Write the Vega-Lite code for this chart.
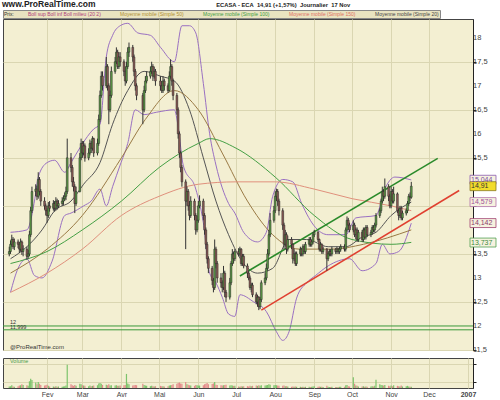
{
"$schema":"https://vega.github.io/schema/vega-lite/v6.json",
"background":"white",
"padding":{"left":2,"top":0,"right":0,"bottom":0},
"title":{"text":"www.ProRealTime.com","anchor":"start","font":"Liberation Sans","fontSize":8.5,"fontWeight":"bold","color":"#222","offset":1,
 "subtitle":"\u200b\u00a0\u00a0\u00a0\u00a0\u00a0\u00a0\u00a0\u00a0\u00a0\u00a0\u00a0\u00a0\u00a0\u00a0\u00a0\u00a0\u00a0\u00a0\u00a0\u00a0\u00a0\u00a0\u00a0\u00a0\u00a0\u00a0\u00a0\u00a0\u00a0\u00a0\u00a0\u00a0\u00a0\u00a0\u00a0\u00a0\u00a0\u00a0\u00a0\u00a0\u00a0\u00a0\u00a0\u00a0\u00a0\u00a0\u00a0\u00a0\u00a0\u00a0\u00a0\u00a0\u00a0\u00a0\u00a0\u00a0\u00a0\u00a0\u00a0\u00a0\u00a0\u00a0\u00a0\u00a0\u00a0\u00a0\u00a0\u00a0\u00a0\u00a0\u00a0\u00a0\u00a0\u00a0\u00a0\u00a0\u00a0\u00a0\u00a0\u00a0\u00a0\u00a0\u00a0\u00a0\u00a0\u00a0\u00a0\u00a0\u00a0\u00a0\u00a0\u00a0\u00a0\u00a0\u00a0\u00a0\u00a0\u00a0\u00a0\u00a0\u00a0\u00a0\u00a0\u00a0\u00a0\u00a0\u00a0\u00a0\u00a0\u00a0\u00a0\u00a0\u00a0\u00a0\u00a0\u00a0\u00a0\u00a0\u00a0\u00a0\u00a0\u00a0\u00a0\u00a0\u00a0\u00a0\u00a0\u00a0\u00a0\u00a0\u00a0\u00a0\u00a0ECASA - ECA\u00a0\u00a014,91 (+1,57%)\u00a0\u00a0Journalier\u00a0\u00a017 Nov",
 "subtitleFont":"Liberation Sans","subtitleFontSize":5.8,"subtitleFontWeight":"bold","subtitleColor":"#222","subtitlePadding":-7},
"config":{"view":{"stroke":"#444","strokeWidth":1,"fill":"#f3efd2"},
 "axis":{"gridColor":"#dad6b2","gridWidth":1,"labelFont":"Liberation Sans","labelFontSize":7.5,"labelColor":"#444","domainColor":"#222","tickColor":"#222","tickSize":3,"labelOverlap":false},
 "legend":{"labelFont":"Liberation Sans","titleFont":"Liberation Sans"}},
"datasets":{
"k":[
{"d":"2006-01-02","o":13.5,"h":13.65,"l":13.45,"c":13.55,"v":5000},
{"d":"2006-01-03","o":13.55,"h":13.78,"l":13.5,"c":13.7,"v":6000},
{"d":"2006-01-04","o":13.7,"h":13.9,"l":13.65,"c":13.8,"v":9000},
{"d":"2006-01-05","o":13.8,"h":13.85,"l":13.6,"c":13.65,"v":5000},
{"d":"2006-01-06","o":13.65,"h":13.82,"l":13.58,"c":13.75,"v":4000},
{"d":"2006-01-09","o":13.75,"h":13.8,"l":13.62,"c":13.7,"v":6000},
{"d":"2006-01-10","o":13.7,"h":13.75,"l":13.52,"c":13.6,"v":8000},
{"d":"2006-01-11","o":13.6,"h":13.82,"l":13.55,"c":13.75,"v":9000},
{"d":"2006-01-12","o":13.75,"h":13.78,"l":13.48,"c":13.55,"v":12000},
{"d":"2006-01-13","o":13.55,"h":13.68,"l":13.45,"c":13.6,"v":10000},
{"d":"2006-01-16","o":13.6,"h":13.65,"l":13.38,"c":13.45,"v":9000},
{"d":"2006-01-17","o":13.45,"h":13.58,"l":13.4,"c":13.5,"v":7000},
{"d":"2006-01-18","o":13.5,"h":13.98,"l":13.45,"c":13.9,"v":22000},
{"d":"2006-01-19","o":13.9,"h":14.48,"l":13.85,"c":14.4,"v":30000},
{"d":"2006-01-20","o":14.4,"h":14.9,"l":14.35,"c":14.8,"v":26000},
{"d":"2006-01-23","o":14.8,"h":14.95,"l":14.7,"c":14.85,"v":18000},
{"d":"2006-01-24","o":14.85,"h":14.92,"l":14.62,"c":14.7,"v":12000},
{"d":"2006-01-25","o":14.7,"h":15.2,"l":14.65,"c":15.05,"v":20000},
{"d":"2006-01-26","o":15.05,"h":15.1,"l":14.72,"c":14.8,"v":14000},
{"d":"2006-01-27","o":14.8,"h":14.85,"l":14.5,"c":14.6,"v":10000},
{"d":"2006-01-30","o":14.6,"h":14.68,"l":14.42,"c":14.5,"v":8000},
{"d":"2006-01-31","o":14.5,"h":14.55,"l":14.3,"c":14.4,"v":9000},
{"d":"2006-02-01","o":14.4,"h":14.45,"l":14.15,"c":14.3,"v":11000},
{"d":"2006-02-02","o":14.3,"h":14.58,"l":14.25,"c":14.5,"v":7000},
{"d":"2006-02-03","o":14.5,"h":14.6,"l":14.38,"c":14.45,"v":5000},
{"d":"2006-02-06","o":14.45,"h":14.62,"l":14.4,"c":14.55,"v":5000},
{"d":"2006-02-07","o":14.55,"h":14.6,"l":14.38,"c":14.45,"v":4000},
{"d":"2006-02-08","o":14.45,"h":14.68,"l":14.4,"c":14.6,"v":6000},
{"d":"2006-02-09","o":14.6,"h":14.65,"l":14.42,"c":14.5,"v":4000},
{"d":"2006-02-10","o":14.5,"h":14.62,"l":14.45,"c":14.55,"v":5000},
{"d":"2006-02-13","o":14.55,"h":14.68,"l":14.5,"c":14.6,"v":4000},
{"d":"2006-02-14","o":14.6,"h":14.72,"l":14.52,"c":14.65,"v":5000},
{"d":"2006-02-15","o":14.65,"h":14.78,"l":14.6,"c":14.7,"v":6000},
{"d":"2006-02-16","o":14.7,"h":14.9,"l":14.62,"c":14.8,"v":8000},
{"d":"2006-02-17","o":14.8,"h":15.9,"l":14.75,"c":15.5,"v":76000},
{"d":"2006-02-20","o":15.5,"h":15.6,"l":15.2,"c":15.3,"v":12000},
{"d":"2006-02-21","o":15.3,"h":15.35,"l":14.9,"c":15.0,"v":9000},
{"d":"2006-02-22","o":15.0,"h":15.1,"l":14.8,"c":14.9,"v":7000},
{"d":"2006-02-23","o":14.9,"h":14.95,"l":14.35,"c":14.55,"v":10000},
{"d":"2006-02-24","o":14.55,"h":14.9,"l":14.5,"c":14.8,"v":7000},
{"d":"2006-02-27","o":14.8,"h":15.6,"l":14.78,"c":15.5,"v":14000},
{"d":"2006-02-28","o":15.5,"h":15.9,"l":15.45,"c":15.8,"v":12000},
{"d":"2006-03-01","o":15.8,"h":15.85,"l":15.5,"c":15.6,"v":9000},
{"d":"2006-03-02","o":15.6,"h":15.85,"l":15.55,"c":15.75,"v":8000},
{"d":"2006-03-03","o":15.75,"h":15.8,"l":15.42,"c":15.5,"v":7000},
{"d":"2006-03-06","o":15.5,"h":15.7,"l":15.45,"c":15.6,"v":6000},
{"d":"2006-03-07","o":15.6,"h":15.88,"l":15.55,"c":15.8,"v":8000},
{"d":"2006-03-08","o":15.8,"h":15.85,"l":15.6,"c":15.7,"v":6000},
{"d":"2006-03-09","o":15.7,"h":15.95,"l":15.65,"c":15.9,"v":7000},
{"d":"2006-03-10","o":15.9,"h":15.92,"l":15.52,"c":15.6,"v":8000},
{"d":"2006-03-13","o":15.6,"h":15.9,"l":15.55,"c":15.8,"v":9000},
{"d":"2006-03-14","o":15.8,"h":16.4,"l":15.75,"c":16.3,"v":15000},
{"d":"2006-03-15","o":16.3,"h":16.9,"l":16.25,"c":16.8,"v":16000},
{"d":"2006-03-16","o":16.8,"h":17.3,"l":16.75,"c":17.2,"v":14000},
{"d":"2006-03-17","o":17.2,"h":17.3,"l":16.9,"c":17.0,"v":10000},
{"d":"2006-03-20","o":17.0,"h":17.6,"l":16.95,"c":17.4,"v":11000},
{"d":"2006-03-21","o":17.4,"h":17.45,"l":16.9,"c":17.0,"v":9000},
{"d":"2006-03-22","o":17.0,"h":17.05,"l":16.2,"c":16.5,"v":12000},
{"d":"2006-03-23","o":16.5,"h":16.9,"l":16.45,"c":16.8,"v":8000},
{"d":"2006-03-24","o":16.8,"h":17.4,"l":16.75,"c":17.3,"v":9000},
{"d":"2006-03-27","o":17.3,"h":17.6,"l":17.25,"c":17.5,"v":8000},
{"d":"2006-03-28","o":17.5,"h":17.8,"l":17.45,"c":17.7,"v":9000},
{"d":"2006-03-29","o":17.7,"h":17.75,"l":17.35,"c":17.4,"v":7000},
{"d":"2006-03-30","o":17.4,"h":17.7,"l":17.35,"c":17.6,"v":7000},
{"d":"2006-03-31","o":17.6,"h":17.7,"l":17.4,"c":17.5,"v":8000},
{"d":"2006-04-03","o":17.5,"h":17.55,"l":17.2,"c":17.3,"v":9000},
{"d":"2006-04-04","o":17.3,"h":17.4,"l":17.0,"c":17.1,"v":10000},
{"d":"2006-04-05","o":17.1,"h":17.5,"l":17.05,"c":17.4,"v":46000},
{"d":"2006-04-06","o":17.4,"h":17.8,"l":17.35,"c":17.7,"v":15000},
{"d":"2006-04-07","o":17.7,"h":17.9,"l":17.6,"c":17.8,"v":12000},
{"d":"2006-04-10","o":17.8,"h":17.85,"l":17.5,"c":17.6,"v":8000},
{"d":"2006-04-11","o":17.6,"h":17.65,"l":17.2,"c":17.3,"v":9000},
{"d":"2006-04-12","o":17.3,"h":17.35,"l":16.9,"c":17.0,"v":10000},
{"d":"2006-04-13","o":17.0,"h":17.05,"l":16.7,"c":16.8,"v":9000},
{"d":"2006-04-18","o":16.8,"h":16.85,"l":16.2,"c":16.5,"v":14000},
{"d":"2006-04-19","o":16.5,"h":17.0,"l":16.45,"c":16.9,"v":10000},
{"d":"2006-04-20","o":16.9,"h":17.2,"l":16.85,"c":17.1,"v":8000},
{"d":"2006-04-21","o":17.1,"h":17.3,"l":17.05,"c":17.2,"v":7000},
{"d":"2006-04-24","o":17.2,"h":17.4,"l":17.15,"c":17.3,"v":6000},
{"d":"2006-04-25","o":17.3,"h":17.5,"l":17.25,"c":17.4,"v":7000},
{"d":"2006-04-26","o":17.4,"h":17.45,"l":17.1,"c":17.2,"v":6000},
{"d":"2006-04-27","o":17.2,"h":17.4,"l":17.15,"c":17.3,"v":5000},
{"d":"2006-04-28","o":17.3,"h":17.35,"l":17.0,"c":17.1,"v":6000},
{"d":"2006-05-02","o":17.1,"h":17.2,"l":16.9,"c":17.0,"v":7000},
{"d":"2006-05-03","o":17.0,"h":17.1,"l":16.85,"c":16.9,"v":6000},
{"d":"2006-05-04","o":16.9,"h":17.2,"l":16.85,"c":17.1,"v":6000},
{"d":"2006-05-05","o":17.1,"h":17.15,"l":16.9,"c":17.0,"v":5000},
{"d":"2006-05-08","o":17.0,"h":17.05,"l":16.85,"c":16.9,"v":6000},
{"d":"2006-05-09","o":16.9,"h":17.3,"l":16.88,"c":17.2,"v":8000},
{"d":"2006-05-10","o":17.2,"h":17.55,"l":17.15,"c":17.4,"v":9000},
{"d":"2006-05-11","o":17.4,"h":17.45,"l":17.0,"c":17.1,"v":10000},
{"d":"2006-05-12","o":17.1,"h":17.15,"l":16.7,"c":16.8,"v":12000},
{"d":"2006-05-15","o":16.8,"h":16.85,"l":16.4,"c":16.5,"v":14000},
{"d":"2006-05-16","o":16.5,"h":16.55,"l":15.9,"c":16.0,"v":16000},
{"d":"2006-05-17","o":16.0,"h":16.05,"l":15.5,"c":15.6,"v":18000},
{"d":"2006-05-18","o":15.6,"h":15.65,"l":15.2,"c":15.3,"v":15000},
{"d":"2006-05-19","o":15.3,"h":15.35,"l":14.9,"c":15.0,"v":14000},
{"d":"2006-05-22","o":15.0,"h":15.05,"l":13.6,"c":14.6,"v":20000},
{"d":"2006-05-23","o":14.6,"h":14.9,"l":14.5,"c":14.8,"v":12000},
{"d":"2006-05-24","o":14.8,"h":14.85,"l":14.4,"c":14.5,"v":11000},
{"d":"2006-05-25","o":14.5,"h":14.6,"l":14.2,"c":14.3,"v":9000},
{"d":"2006-05-26","o":14.3,"h":14.7,"l":14.25,"c":14.6,"v":8000},
{"d":"2006-05-29","o":14.6,"h":14.65,"l":14.2,"c":14.3,"v":7000},
{"d":"2006-05-30","o":14.3,"h":14.35,"l":13.9,"c":14.0,"v":10000},
{"d":"2006-05-31","o":14.0,"h":14.3,"l":13.95,"c":14.2,"v":9000},
{"d":"2006-06-01","o":14.2,"h":14.6,"l":14.15,"c":14.5,"v":8000},
{"d":"2006-06-02","o":14.5,"h":14.72,"l":14.45,"c":14.6,"v":8000},
{"d":"2006-06-05","o":14.6,"h":14.65,"l":14.2,"c":14.3,"v":9000},
{"d":"2006-06-06","o":14.3,"h":14.35,"l":13.9,"c":14.0,"v":12000},
{"d":"2006-06-07","o":14.0,"h":14.05,"l":13.6,"c":13.7,"v":14000},
{"d":"2006-06-08","o":13.7,"h":13.75,"l":13.3,"c":13.4,"v":16000},
{"d":"2006-06-09","o":13.4,"h":13.45,"l":13.1,"c":13.2,"v":12000},
{"d":"2006-06-12","o":13.2,"h":13.25,"l":12.85,"c":12.95,"v":13000},
{"d":"2006-06-13","o":12.95,"h":13.0,"l":12.7,"c":12.8,"v":15000},
{"d":"2006-06-14","o":12.8,"h":13.8,"l":12.75,"c":13.6,"v":20000},
{"d":"2006-06-15","o":13.6,"h":13.65,"l":13.2,"c":13.3,"v":11000},
{"d":"2006-06-16","o":13.3,"h":13.35,"l":12.9,"c":13.0,"v":10000},
{"d":"2006-06-19","o":13.0,"h":13.1,"l":12.8,"c":12.9,"v":9000},
{"d":"2006-06-20","o":12.9,"h":12.95,"l":12.7,"c":12.8,"v":8000},
{"d":"2006-06-21","o":12.8,"h":13.25,"l":12.75,"c":13.1,"v":9000},
{"d":"2006-06-22","o":13.1,"h":13.15,"l":12.6,"c":12.7,"v":10000},
{"d":"2006-06-23","o":12.7,"h":12.75,"l":12.5,"c":12.6,"v":11000},
{"d":"2006-06-26","o":12.6,"h":13.0,"l":12.55,"c":12.9,"v":8000},
{"d":"2006-06-27","o":12.9,"h":13.35,"l":12.85,"c":13.3,"v":9000},
{"d":"2006-06-28","o":13.3,"h":13.6,"l":13.25,"c":13.5,"v":8000},
{"d":"2006-06-29","o":13.5,"h":13.55,"l":13.3,"c":13.4,"v":7000},
{"d":"2006-06-30","o":13.4,"h":13.6,"l":13.35,"c":13.55,"v":7000},
{"d":"2006-07-03","o":13.55,"h":13.62,"l":13.45,"c":13.5,"v":5000},
{"d":"2006-07-04","o":13.5,"h":13.65,"l":13.45,"c":13.6,"v":4000},
{"d":"2006-07-05","o":13.6,"h":13.62,"l":13.25,"c":13.3,"v":6000},
{"d":"2006-07-06","o":13.3,"h":13.5,"l":13.25,"c":13.45,"v":5000},
{"d":"2006-07-07","o":13.45,"h":13.5,"l":13.2,"c":13.25,"v":6000},
{"d":"2006-07-10","o":13.25,"h":13.3,"l":13.0,"c":13.1,"v":6000},
{"d":"2006-07-11","o":13.1,"h":13.15,"l":12.95,"c":13.0,"v":5000},
{"d":"2006-07-12","o":13.0,"h":13.05,"l":12.75,"c":12.8,"v":7000},
{"d":"2006-07-13","o":12.8,"h":12.9,"l":12.7,"c":12.85,"v":6000},
{"d":"2006-07-14","o":12.85,"h":12.9,"l":12.6,"c":12.65,"v":7000},
{"d":"2006-07-17","o":12.65,"h":12.7,"l":12.45,"c":12.5,"v":8000},
{"d":"2006-07-18","o":12.5,"h":12.65,"l":12.4,"c":12.6,"v":7000},
{"d":"2006-07-19","o":12.6,"h":12.62,"l":12.33,"c":12.4,"v":9000},
{"d":"2006-07-20","o":12.4,"h":12.6,"l":12.35,"c":12.55,"v":7000},
{"d":"2006-07-21","o":12.55,"h":12.95,"l":12.5,"c":12.9,"v":9000},
{"d":"2006-07-24","o":12.9,"h":13.1,"l":12.85,"c":13.0,"v":8000},
{"d":"2006-07-25","o":13.0,"h":13.3,"l":12.95,"c":13.2,"v":9000},
{"d":"2006-07-26","o":13.2,"h":13.6,"l":13.15,"c":13.5,"v":10000},
{"d":"2006-07-27","o":13.5,"h":14.0,"l":13.45,"c":13.9,"v":12000},
{"d":"2006-07-28","o":13.9,"h":14.35,"l":13.85,"c":14.2,"v":11000},
{"d":"2006-07-31","o":14.2,"h":14.5,"l":14.15,"c":14.4,"v":9000},
{"d":"2006-08-01","o":14.4,"h":14.8,"l":14.35,"c":14.7,"v":10000},
{"d":"2006-08-02","o":14.7,"h":14.86,"l":14.6,"c":14.8,"v":9000},
{"d":"2006-08-03","o":14.8,"h":14.85,"l":14.5,"c":14.6,"v":8000},
{"d":"2006-08-04","o":14.6,"h":14.65,"l":14.3,"c":14.4,"v":7000},
{"d":"2006-08-07","o":14.4,"h":14.45,"l":14.0,"c":14.1,"v":7000},
{"d":"2006-08-08","o":14.1,"h":14.15,"l":13.6,"c":13.7,"v":8000},
{"d":"2006-08-09","o":13.7,"h":14.0,"l":13.65,"c":13.9,"v":6000},
{"d":"2006-08-10","o":13.9,"h":13.95,"l":13.5,"c":13.6,"v":6000},
{"d":"2006-08-11","o":13.6,"h":13.88,"l":13.55,"c":13.8,"v":5000},
{"d":"2006-08-14","o":13.8,"h":13.85,"l":13.6,"c":13.7,"v":4000},
{"d":"2006-08-15","o":13.7,"h":13.72,"l":13.3,"c":13.4,"v":5000},
{"d":"2006-08-16","o":13.4,"h":13.6,"l":13.35,"c":13.5,"v":4000},
{"d":"2006-08-17","o":13.5,"h":13.55,"l":13.25,"c":13.3,"v":5000},
{"d":"2006-08-18","o":13.3,"h":13.55,"l":13.25,"c":13.5,"v":4000},
{"d":"2006-08-21","o":13.5,"h":13.65,"l":13.45,"c":13.6,"v":4000},
{"d":"2006-08-22","o":13.6,"h":13.62,"l":13.45,"c":13.5,"v":3000},
{"d":"2006-08-23","o":13.5,"h":13.7,"l":13.45,"c":13.65,"v":4000},
{"d":"2006-08-24","o":13.65,"h":13.7,"l":13.5,"c":13.55,"v":3000},
{"d":"2006-08-25","o":13.55,"h":13.75,"l":13.5,"c":13.7,"v":4000},
{"d":"2006-08-28","o":13.7,"h":13.85,"l":13.65,"c":13.8,"v":4000},
{"d":"2006-08-29","o":13.8,"h":13.85,"l":13.65,"c":13.7,"v":3000},
{"d":"2006-08-30","o":13.7,"h":13.8,"l":13.65,"c":13.75,"v":4000},
{"d":"2006-08-31","o":13.75,"h":13.95,"l":13.7,"c":13.9,"v":5000},
{"d":"2006-09-01","o":13.9,"h":14.0,"l":13.85,"c":13.95,"v":6000},
{"d":"2006-09-04","o":13.95,"h":13.98,"l":13.75,"c":13.8,"v":4000},
{"d":"2006-09-05","o":13.8,"h":13.82,"l":13.55,"c":13.6,"v":5000},
{"d":"2006-09-06","o":13.6,"h":13.75,"l":13.55,"c":13.7,"v":4000},
{"d":"2006-09-07","o":13.7,"h":13.72,"l":13.5,"c":13.55,"v":4000},
{"d":"2006-09-08","o":13.55,"h":13.65,"l":13.5,"c":13.6,"v":3000},
{"d":"2006-09-11","o":13.6,"h":13.62,"l":13.15,"c":13.4,"v":7000},
{"d":"2006-09-12","o":13.4,"h":13.55,"l":13.35,"c":13.5,"v":4000},
{"d":"2006-09-13","o":13.5,"h":13.6,"l":13.45,"c":13.55,"v":3000},
{"d":"2006-09-14","o":13.55,"h":13.6,"l":13.45,"c":13.5,"v":3000},
{"d":"2006-09-15","o":13.5,"h":13.65,"l":13.45,"c":13.6,"v":4000},
{"d":"2006-09-18","o":13.6,"h":13.62,"l":13.5,"c":13.55,"v":3000},
{"d":"2006-09-19","o":13.55,"h":13.65,"l":13.5,"c":13.6,"v":3000},
{"d":"2006-09-20","o":13.6,"h":13.62,"l":13.5,"c":13.55,"v":3000},
{"d":"2006-09-21","o":13.55,"h":13.65,"l":13.5,"c":13.6,"v":4000},
{"d":"2006-09-22","o":13.6,"h":13.7,"l":13.55,"c":13.65,"v":4000},
{"d":"2006-09-25","o":13.65,"h":13.7,"l":13.55,"c":13.6,"v":4000},
{"d":"2006-09-26","o":13.6,"h":14.05,"l":13.55,"c":14.0,"v":9000},
{"d":"2006-09-27","o":14.0,"h":14.28,"l":13.95,"c":14.2,"v":10000},
{"d":"2006-09-28","o":14.2,"h":14.25,"l":14.0,"c":14.1,"v":6000},
{"d":"2006-09-29","o":14.1,"h":14.15,"l":13.95,"c":14.0,"v":5000},
{"d":"2006-10-02","o":14.0,"h":14.2,"l":13.95,"c":14.1,"v":35000},
{"d":"2006-10-03","o":14.1,"h":14.15,"l":13.85,"c":13.9,"v":14000},
{"d":"2006-10-04","o":13.9,"h":14.05,"l":13.8,"c":14.0,"v":8000},
{"d":"2006-10-05","o":14.0,"h":14.05,"l":13.75,"c":13.8,"v":7000},
{"d":"2006-10-06","o":13.8,"h":14.0,"l":13.75,"c":13.95,"v":5000},
{"d":"2006-10-09","o":13.95,"h":14.0,"l":13.75,"c":13.8,"v":5000},
{"d":"2006-10-10","o":13.8,"h":14.05,"l":13.75,"c":14.0,"v":6000},
{"d":"2006-10-11","o":14.0,"h":14.05,"l":13.8,"c":13.85,"v":4000},
{"d":"2006-10-12","o":13.85,"h":14.1,"l":13.8,"c":14.05,"v":5000},
{"d":"2006-10-13","o":14.05,"h":14.1,"l":13.85,"c":13.9,"v":4000},
{"d":"2006-10-16","o":13.9,"h":14.0,"l":13.85,"c":13.95,"v":5000},
{"d":"2006-10-17","o":13.95,"h":14.1,"l":13.9,"c":14.05,"v":6000},
{"d":"2006-10-18","o":14.05,"h":14.1,"l":13.95,"c":14.0,"v":5000},
{"d":"2006-10-19","o":14.0,"h":14.15,"l":13.95,"c":14.1,"v":7000},
{"d":"2006-10-20","o":14.1,"h":14.35,"l":14.05,"c":14.3,"v":27000},
{"d":"2006-10-23","o":14.3,"h":14.45,"l":14.25,"c":14.4,"v":12000},
{"d":"2006-10-24","o":14.4,"h":14.65,"l":14.35,"c":14.6,"v":10000},
{"d":"2006-10-25","o":14.6,"h":14.9,"l":14.55,"c":14.8,"v":9000},
{"d":"2006-10-26","o":14.8,"h":14.85,"l":14.6,"c":14.7,"v":8000},
{"d":"2006-10-27","o":14.7,"h":15.07,"l":14.65,"c":14.9,"v":10000},
{"d":"2006-10-30","o":14.9,"h":14.95,"l":14.6,"c":14.7,"v":7000},
{"d":"2006-10-31","o":14.7,"h":14.75,"l":14.45,"c":14.5,"v":6000},
{"d":"2006-11-01","o":14.5,"h":14.9,"l":14.45,"c":14.8,"v":8000},
{"d":"2006-11-02","o":14.8,"h":14.85,"l":14.55,"c":14.6,"v":6000},
{"d":"2006-11-03","o":14.6,"h":14.9,"l":14.55,"c":14.75,"v":9000},
{"d":"2006-11-06","o":14.75,"h":14.78,"l":14.35,"c":14.4,"v":7000},
{"d":"2006-11-07","o":14.4,"h":14.45,"l":14.2,"c":14.3,"v":6000},
{"d":"2006-11-08","o":14.3,"h":14.5,"l":14.25,"c":14.45,"v":5000},
{"d":"2006-11-09","o":14.45,"h":14.5,"l":14.2,"c":14.25,"v":8000},
{"d":"2006-11-10","o":14.25,"h":14.4,"l":14.2,"c":14.35,"v":5000},
{"d":"2006-11-13","o":14.35,"h":14.45,"l":14.3,"c":14.4,"v":6000},
{"d":"2006-11-14","o":14.4,"h":14.6,"l":14.35,"c":14.55,"v":7000},
{"d":"2006-11-15","o":14.55,"h":14.75,"l":14.5,"c":14.7,"v":5000},
{"d":"2006-11-16","o":14.7,"h":14.78,"l":14.6,"c":14.68,"v":4000},
{"d":"2006-11-17","o":14.68,"h":15.0,"l":14.65,"c":14.91,"v":3887}
],
"ln":[
{"d":"2006-01-03","s":"B","b":"u","v":13.95},{"d":"2006-01-16","s":"B","b":"u","v":14.0},{"d":"2006-01-22","s":"B","b":"u","v":14.6},{"d":"2006-01-25","s":"B","b":"u","v":15.1},{"d":"2006-02-01","s":"B","b":"u","v":15.4},{"d":"2006-02-07","s":"B","b":"u","v":15.45},{"d":"2006-02-15","s":"B","b":"u","v":15.2},{"d":"2006-02-20","s":"B","b":"u","v":15.4},{"d":"2006-02-28","s":"B","b":"u","v":15.75},{"d":"2006-03-10","s":"B","b":"u","v":16.1},{"d":"2006-03-15","s":"B","b":"u","v":16.2},{"d":"2006-03-20","s":"B","b":"u","v":17.6},{"d":"2006-03-25","s":"B","b":"u","v":18.05},{"d":"2006-03-31","s":"B","b":"u","v":18.25},{"d":"2006-04-06","s":"B","b":"u","v":18.3},{"d":"2006-04-14","s":"B","b":"u","v":18.1},{"d":"2006-04-24","s":"B","b":"u","v":18.05},{"d":"2006-05-02","s":"B","b":"u","v":17.8},{"d":"2006-05-13","s":"B","b":"u","v":17.5},{"d":"2006-05-19","s":"B","b":"u","v":18.25},{"d":"2006-05-25","s":"B","b":"u","v":18.25},{"d":"2006-05-30","s":"B","b":"u","v":18.1},{"d":"2006-06-05","s":"B","b":"u","v":17.05},{"d":"2006-06-10","s":"B","b":"u","v":16.0},{"d":"2006-06-15","s":"B","b":"u","v":15.35},{"d":"2006-06-25","s":"B","b":"u","v":14.55},{"d":"2006-06-30","s":"B","b":"u","v":14.35},{"d":"2006-07-07","s":"B","b":"u","v":13.95},{"d":"2006-07-18","s":"B","b":"u","v":13.75},{"d":"2006-07-25","s":"B","b":"u","v":13.95},{"d":"2006-07-30","s":"B","b":"u","v":14.7},{"d":"2006-08-07","s":"B","b":"u","v":15.05},{"d":"2006-08-15","s":"B","b":"u","v":15.0},{"d":"2006-08-22","s":"B","b":"u","v":14.55},{"d":"2006-09-02","s":"B","b":"u","v":14.05},{"d":"2006-09-12","s":"B","b":"u","v":13.9},{"d":"2006-09-26","s":"B","b":"u","v":13.9},{"d":"2006-10-04","s":"B","b":"u","v":14.25},{"d":"2006-10-20","s":"B","b":"u","v":14.3},{"d":"2006-10-27","s":"B","b":"u","v":14.85},{"d":"2006-11-04","s":"B","b":"u","v":15.1},{"d":"2006-11-17","s":"B","b":"u","v":15.04},
{"d":"2006-01-03","s":"B","b":"l","v":12.7},{"d":"2006-01-09","s":"B","b":"l","v":13.2},{"d":"2006-01-16","s":"B","b":"l","v":13.4},{"d":"2006-01-22","s":"B","b":"l","v":13.05},{"d":"2006-01-28","s":"B","b":"l","v":13.0},{"d":"2006-02-05","s":"B","b":"l","v":13.35},{"d":"2006-02-15","s":"B","b":"l","v":14.3},{"d":"2006-02-20","s":"B","b":"l","v":14.35},{"d":"2006-03-02","s":"B","b":"l","v":14.5},{"d":"2006-03-08","s":"B","b":"l","v":14.6},{"d":"2006-03-15","s":"B","b":"l","v":14.85},{"d":"2006-03-20","s":"B","b":"l","v":14.5},{"d":"2006-03-25","s":"B","b":"l","v":14.9},{"d":"2006-03-31","s":"B","b":"l","v":15.35},{"d":"2006-04-06","s":"B","b":"l","v":15.8},{"d":"2006-04-12","s":"B","b":"l","v":16.5},{"d":"2006-04-19","s":"B","b":"l","v":16.4},{"d":"2006-04-29","s":"B","b":"l","v":16.45},{"d":"2006-05-13","s":"B","b":"l","v":16.5},{"d":"2006-05-16","s":"B","b":"l","v":16.15},{"d":"2006-05-20","s":"B","b":"l","v":15.35},{"d":"2006-05-30","s":"B","b":"l","v":14.85},{"d":"2006-06-05","s":"B","b":"l","v":14.15},{"d":"2006-06-10","s":"B","b":"l","v":13.1},{"d":"2006-06-15","s":"B","b":"l","v":12.9},{"d":"2006-06-20","s":"B","b":"l","v":12.6},{"d":"2006-06-25","s":"B","b":"l","v":12.25},{"d":"2006-06-30","s":"B","b":"l","v":12.2},{"d":"2006-07-04","s":"B","b":"l","v":12.65},{"d":"2006-07-15","s":"B","b":"l","v":12.5},{"d":"2006-07-25","s":"B","b":"l","v":12.3},{"d":"2006-08-02","s":"B","b":"l","v":11.88},{"d":"2006-08-07","s":"B","b":"l","v":11.7},{"d":"2006-08-12","s":"B","b":"l","v":11.88},{"d":"2006-08-18","s":"B","b":"l","v":12.58},{"d":"2006-08-26","s":"B","b":"l","v":12.9},{"d":"2006-09-02","s":"B","b":"l","v":13.05},{"d":"2006-09-12","s":"B","b":"l","v":13.25},{"d":"2006-09-29","s":"B","b":"l","v":13.4},{"d":"2006-10-09","s":"B","b":"l","v":13.15},{"d":"2006-10-20","s":"B","b":"l","v":13.3},{"d":"2006-10-25","s":"B","b":"l","v":13.7},{"d":"2006-10-31","s":"B","b":"l","v":13.5},{"d":"2006-11-07","s":"B","b":"l","v":13.55},{"d":"2006-11-17","s":"B","b":"l","v":14.14},
{"d":"2006-01-03","s":"M20","b":"m","v":13.4},{"d":"2006-01-16","s":"M20","b":"m","v":13.65},{"d":"2006-01-28","s":"M20","b":"m","v":14.0},{"d":"2006-02-07","s":"M20","b":"m","v":14.4},{"d":"2006-02-20","s":"M20","b":"m","v":14.6},{"d":"2006-03-02","s":"M20","b":"m","v":14.95},{"d":"2006-03-15","s":"M20","b":"m","v":15.4},{"d":"2006-03-25","s":"M20","b":"m","v":16.2},{"d":"2006-04-06","s":"M20","b":"m","v":16.9},{"d":"2006-04-19","s":"M20","b":"m","v":17.3},{"d":"2006-05-02","s":"M20","b":"m","v":17.2},{"d":"2006-05-13","s":"M20","b":"m","v":17.1},{"d":"2006-05-25","s":"M20","b":"m","v":16.5},{"d":"2006-06-05","s":"M20","b":"m","v":15.5},{"d":"2006-06-15","s":"M20","b":"m","v":14.6},{"d":"2006-06-25","s":"M20","b":"m","v":13.9},{"d":"2006-07-07","s":"M20","b":"m","v":13.3},{"d":"2006-07-18","s":"M20","b":"m","v":13.1},{"d":"2006-07-30","s":"M20","b":"m","v":13.2},{"d":"2006-08-12","s":"M20","b":"m","v":13.8},{"d":"2006-08-26","s":"M20","b":"m","v":13.8},{"d":"2006-09-12","s":"M20","b":"m","v":13.65},{"d":"2006-09-26","s":"M20","b":"m","v":13.65},{"d":"2006-10-09","s":"M20","b":"m","v":13.85},{"d":"2006-10-20","s":"M20","b":"m","v":13.95},{"d":"2006-11-01","s":"M20","b":"m","v":14.3},{"d":"2006-11-17","s":"M20","b":"m","v":14.58},
{"d":"2006-01-03","s":"M50","b":"m","v":13.1},{"d":"2006-02-01","s":"M50","b":"m","v":13.6},{"d":"2006-03-01","s":"M50","b":"m","v":14.3},{"d":"2006-04-01","s":"M50","b":"m","v":15.5},{"d":"2006-04-20","s":"M50","b":"m","v":16.3},{"d":"2006-05-13","s":"M50","b":"m","v":16.9},{"d":"2006-06-01","s":"M50","b":"m","v":16.5},{"d":"2006-06-20","s":"M50","b":"m","v":15.6},{"d":"2006-07-10","s":"M50","b":"m","v":14.6},{"d":"2006-07-30","s":"M50","b":"m","v":13.9},{"d":"2006-08-20","s":"M50","b":"m","v":13.6},{"d":"2006-09-15","s":"M50","b":"m","v":13.6},{"d":"2006-10-10","s":"M50","b":"m","v":13.7},{"d":"2006-11-17","s":"M50","b":"m","v":14.0},
{"d":"2006-01-03","s":"M100","b":"m","v":13.3},{"d":"2006-02-01","s":"M100","b":"m","v":13.55},{"d":"2006-03-01","s":"M100","b":"m","v":14.0},{"d":"2006-04-01","s":"M100","b":"m","v":14.6},{"d":"2006-05-01","s":"M100","b":"m","v":15.3},{"d":"2006-06-01","s":"M100","b":"m","v":15.8},{"d":"2006-06-10","s":"M100","b":"m","v":15.9},{"d":"2006-07-01","s":"M100","b":"m","v":15.7},{"d":"2006-08-01","s":"M100","b":"m","v":15.1},{"d":"2006-09-01","s":"M100","b":"m","v":14.3},{"d":"2006-10-01","s":"M100","b":"m","v":13.8},{"d":"2006-11-01","s":"M100","b":"m","v":13.7},{"d":"2006-11-17","s":"M100","b":"m","v":13.74},
{"d":"2006-01-03","s":"M150","b":"m","v":12.7},{"d":"2006-02-01","s":"M150","b":"m","v":13.1},{"d":"2006-03-01","s":"M150","b":"m","v":13.6},{"d":"2006-04-01","s":"M150","b":"m","v":14.3},{"d":"2006-05-01","s":"M150","b":"m","v":14.7},{"d":"2006-06-01","s":"M150","b":"m","v":14.95},{"d":"2006-07-01","s":"M150","b":"m","v":15.0},{"d":"2006-08-01","s":"M150","b":"m","v":15.0},{"d":"2006-09-01","s":"M150","b":"m","v":14.85},{"d":"2006-10-01","s":"M150","b":"m","v":14.65},{"d":"2006-11-01","s":"M150","b":"m","v":14.5},{"d":"2006-11-17","s":"M150","b":"m","v":14.4}
],
"tr":[
{"d":"2006-07-04","t":"g","v":13.04},{"d":"2006-12-08","t":"g","v":15.49},
{"d":"2006-07-21","t":"r","v":12.33},{"d":"2006-12-25","t":"r","v":14.82}
],
"hl":[{"v":12.0},{"v":11.92}],
"ylab":[{"v":11.5,"t":"11,5"},{"v":12,"t":"12"},{"v":12.5,"t":"12,5"},{"v":13,"t":"13"},{"v":13.5,"t":"13,5"},{"v":15.5,"t":"15,5"},{"v":16,"t":"16"},{"v":16.5,"t":"16,5"},{"v":17,"t":"17"},{"v":17.5,"t":"17,5"},{"v":18,"t":"18"}],
"rl":[
{"v":15.044,"t":"15,044","k":"bs"},
{"v":14.91,"t":"14,91","k":"px"},
{"v":14.579,"t":"14,579","k":"mm"},
{"v":14.142,"t":"14,142","k":"bi"},
{"v":13.737,"t":"13,737","k":"m100"}
]
},
"spacing":3,
"vconcat":[
{
"width":470,"height":331,
"layer":[
{"data":{"name":"ln"},"mark":{"type":"line","strokeWidth":1,"interpolate":"monotone","clip":true},
 "encoding":{
  "x":{"field":"d","type":"temporal","scale":{"type":"utc","domain":[{"year":2006,"month":1,"date":1,"utc":true},{"year":2007,"month":1,"date":1,"utc":true}]},
   "axis":{"orient":"bottom","labels":false,"ticks":false,"domain":false,"title":null,"grid":true,
    "values":[{"year":2006,"month":2,"date":1,"utc":true},{"year":2006,"month":3,"date":1,"utc":true},{"year":2006,"month":4,"date":1,"utc":true},{"year":2006,"month":5,"date":1,"utc":true},{"year":2006,"month":6,"date":1,"utc":true},{"year":2006,"month":7,"date":1,"utc":true},{"year":2006,"month":8,"date":1,"utc":true},{"year":2006,"month":9,"date":1,"utc":true},{"year":2006,"month":10,"date":1,"utc":true},{"year":2006,"month":11,"date":1,"utc":true},{"year":2006,"month":12,"date":1,"utc":true}]}},
  "y":{"field":"v","type":"quantitative","scale":{"domain":[11.5,18.39],"nice":false,"zero":false},
   "axis":{"orient":"right","title":null,"grid":true,"labels":false,"values":[11.5,12,12.5,13,13.5,14,14.5,15,15.5,16,16.5,17,17.5,18]}},
  "color":{"field":"s","type":"nominal","scale":{"domain":["B","M50","M100","M150","M20"],"range":["#9a70c2","#9a7a45","#45a045","#e0907c","#555555"]},
   "legend":{"orient":"top","direction":"horizontal","title":"Prix:","titleOrient":"left","titleFontSize":5,"titleFontWeight":"normal","titleColor":"#333","labelFontSize":5,"symbolSize":0,"symbolStrokeWidth":0,"offset":0,"padding":1,"columnPadding":10,"fillColor":"#e9e3c0","strokeColor":"#888",
    "labelExpr":"datum.value=='B'?'Boll sup Boll inf Boll milieu (20 2)':datum.value=='M50'?'Moyenne mobile (Simple 50)':datum.value=='M100'?'Moyenne mobile (Simple 100)':datum.value=='M150'?'Moyenne mobile (Simple 150)':'Moyenne mobile (Simple 20)'",
    "labelColor":{"expr":"datum.value=='B'?'#b0407a':datum.value=='M50'?'#b09030':datum.value=='M100'?'#40a040':datum.value=='M150'?'#e07060':'#444444'"}}},
  "detail":{"field":"b","type":"nominal"}
 }},
{"data":{"name":"hl"},"mark":{"type":"rule","color":"#3a9a3a","strokeWidth":1},"encoding":{"y":{"field":"v","type":"quantitative"}}},
{"data":{"name":"tr"},"mark":{"type":"line","strokeWidth":1.5},
 "encoding":{"x":{"field":"d","type":"temporal"},"y":{"field":"v","type":"quantitative"},
  "stroke":{"field":"t","type":"nominal","scale":{"domain":["g","r"],"range":["#2a8a2a","#e04030"]},"legend":null}}},
{"data":{"name":"k"},"mark":{"type":"rule","color":"#333333","strokeWidth":1},
 "encoding":{"x":{"field":"d","type":"temporal"},"y":{"field":"l","type":"quantitative"},"y2":{"field":"h"}}},
{"data":{"name":"k"},"mark":{"type":"bar","width":1.8,"stroke":"#2a2a2a","strokeWidth":0.5},
 "encoding":{"x":{"field":"d","type":"temporal"},"y":{"field":"o","type":"quantitative"},"y2":{"field":"c"},
  "fill":{"condition":{"test":"datum.c>=datum.o","value":"#5c9a45"},"value":"#8c5a55"}}},
{"data":{"values":[{"t":"12","v":12.09},{"t":"11,999","v":11.97}]},"mark":{"type":"text","align":"left","dx":2,"fontSize":5.5,"font":"Liberation Sans","color":"#333"},
 "encoding":{"x":{"datum":{"year":2006,"month":1,"date":1,"utc":true},"type":"temporal"},"y":{"field":"v","type":"quantitative"},"text":{"field":"t"}}},
{"data":{"values":[{"t":"@ProRealTime.com","v":11.56}]},"mark":{"type":"text","align":"left","dx":2,"fontSize":6,"font":"Liberation Sans","color":"#333"},
 "encoding":{"x":{"datum":{"year":2006,"month":1,"date":1,"utc":true},"type":"temporal"},"y":{"field":"v","type":"quantitative"},"text":{"field":"t"}}},
{"data":{"name":"ylab"},"mark":{"type":"text","align":"left","baseline":"middle","dx":5,"fontSize":7.5,"font":"Liberation Sans","color":"#444"},
 "encoding":{"x":{"datum":{"year":2007,"month":1,"date":1,"utc":true},"type":"temporal"},"y":{"field":"v","type":"quantitative"},"text":{"field":"t"}}},
{"data":{"name":"rl"},"mark":{"type":"point","shape":"M-1.6,-0.55H1.6V0.55H-1.6Z","size":264,"filled":true,"opacity":1,"strokeWidth":0.8,"xOffset":15,"clip":false},
 "encoding":{"x":{"datum":{"year":2007,"month":1,"date":1,"utc":true},"type":"temporal"},"y":{"field":"v","type":"quantitative"},
  "fill":{"condition":{"test":"datum.k=='px'","value":"#f2dc2c"},"value":"#f6f2df"},
  "stroke":{"condition":[{"test":"datum.k=='bs'","value":"#8a5ab0"},{"test":"datum.k=='px'","value":"#8a7a20"},{"test":"datum.k=='mm'","value":"#b070a8"},{"test":"datum.k=='bi'","value":"#a04070"}],"value":"#50a050"}}},
{"data":{"name":"rl"},"mark":{"type":"text","align":"left","baseline":"middle","dx":3,"fontSize":7,"font":"Liberation Sans"},
 "encoding":{"x":{"datum":{"year":2007,"month":1,"date":1,"utc":true},"type":"temporal"},"y":{"field":"v","type":"quantitative"},"text":{"field":"t"},
  "fill":{"field":"k","type":"nominal","scale":{"domain":["bs","px","mm","bi","m100"],"range":["#7a4aa0","#333333","#a0509a","#8a3a6a","#3a8a3a"]},"legend":null}}}
]
},
{
"width":470,"height":30,
"data":{"name":"k"},
"layer":[
{"mark":{"type":"bar","width":1.2},
 "encoding":{
  "x":{"field":"d","type":"temporal","scale":{"type":"utc","domain":[{"year":2006,"month":1,"date":1,"utc":true},{"year":2007,"month":1,"date":1,"utc":true}]},
   "axis":{"title":null,"grid":true,"ticks":false,"domain":false,"labelFontSize":7,"labelPadding":2,"labelOverlap":false,
    "values":[{"year":2006,"month":2,"date":1,"utc":true},{"year":2006,"month":3,"date":1,"utc":true},{"year":2006,"month":4,"date":1,"utc":true},{"year":2006,"month":5,"date":1,"utc":true},{"year":2006,"month":6,"date":1,"utc":true},{"year":2006,"month":7,"date":1,"utc":true},{"year":2006,"month":8,"date":1,"utc":true},{"year":2006,"month":9,"date":1,"utc":true},{"year":2006,"month":10,"date":1,"utc":true},{"year":2006,"month":11,"date":1,"utc":true},{"year":2006,"month":12,"date":1,"utc":true},{"year":2007,"month":1,"date":1,"utc":true}],
    "labelExpr":"utcmonth(datum.value)==0?'2007':['Jan','Fev','Mar','Avr','Mai','Jun','Jul','Aou','Sep','Oct','Nov','Dec'][utcmonth(datum.value)]",
    "labelFontWeight":{"condition":{"test":"utcmonth(datum.value)==0","value":"bold"},"value":"normal"}}},
  "y":{"field":"v","type":"quantitative","scale":{"domain":[0,98000],"nice":false},
   "axis":{"orient":"right","title":null,"grid":true,"values":[20000,40000,60000,80000],"labelFontSize":7,"labelExpr":"datum.value==60000?'60 000':''"}},
  "color":{"condition":{"test":"datum.c>=datum.o","value":"#7cc36b"},"value":"#e38a8a"}
 }},
{"data":{"values":[{"t":"Volume","v":95000}]},"mark":{"type":"text","align":"left","baseline":"top","dx":2,"fontSize":5.5,"font":"Liberation Sans","color":"#4a9a4a"},
 "encoding":{"x":{"datum":{"year":2006,"month":1,"date":1,"utc":true},"type":"temporal"},"y":{"field":"v","type":"quantitative"},"text":{"field":"t"}}}
]
}
]
}
